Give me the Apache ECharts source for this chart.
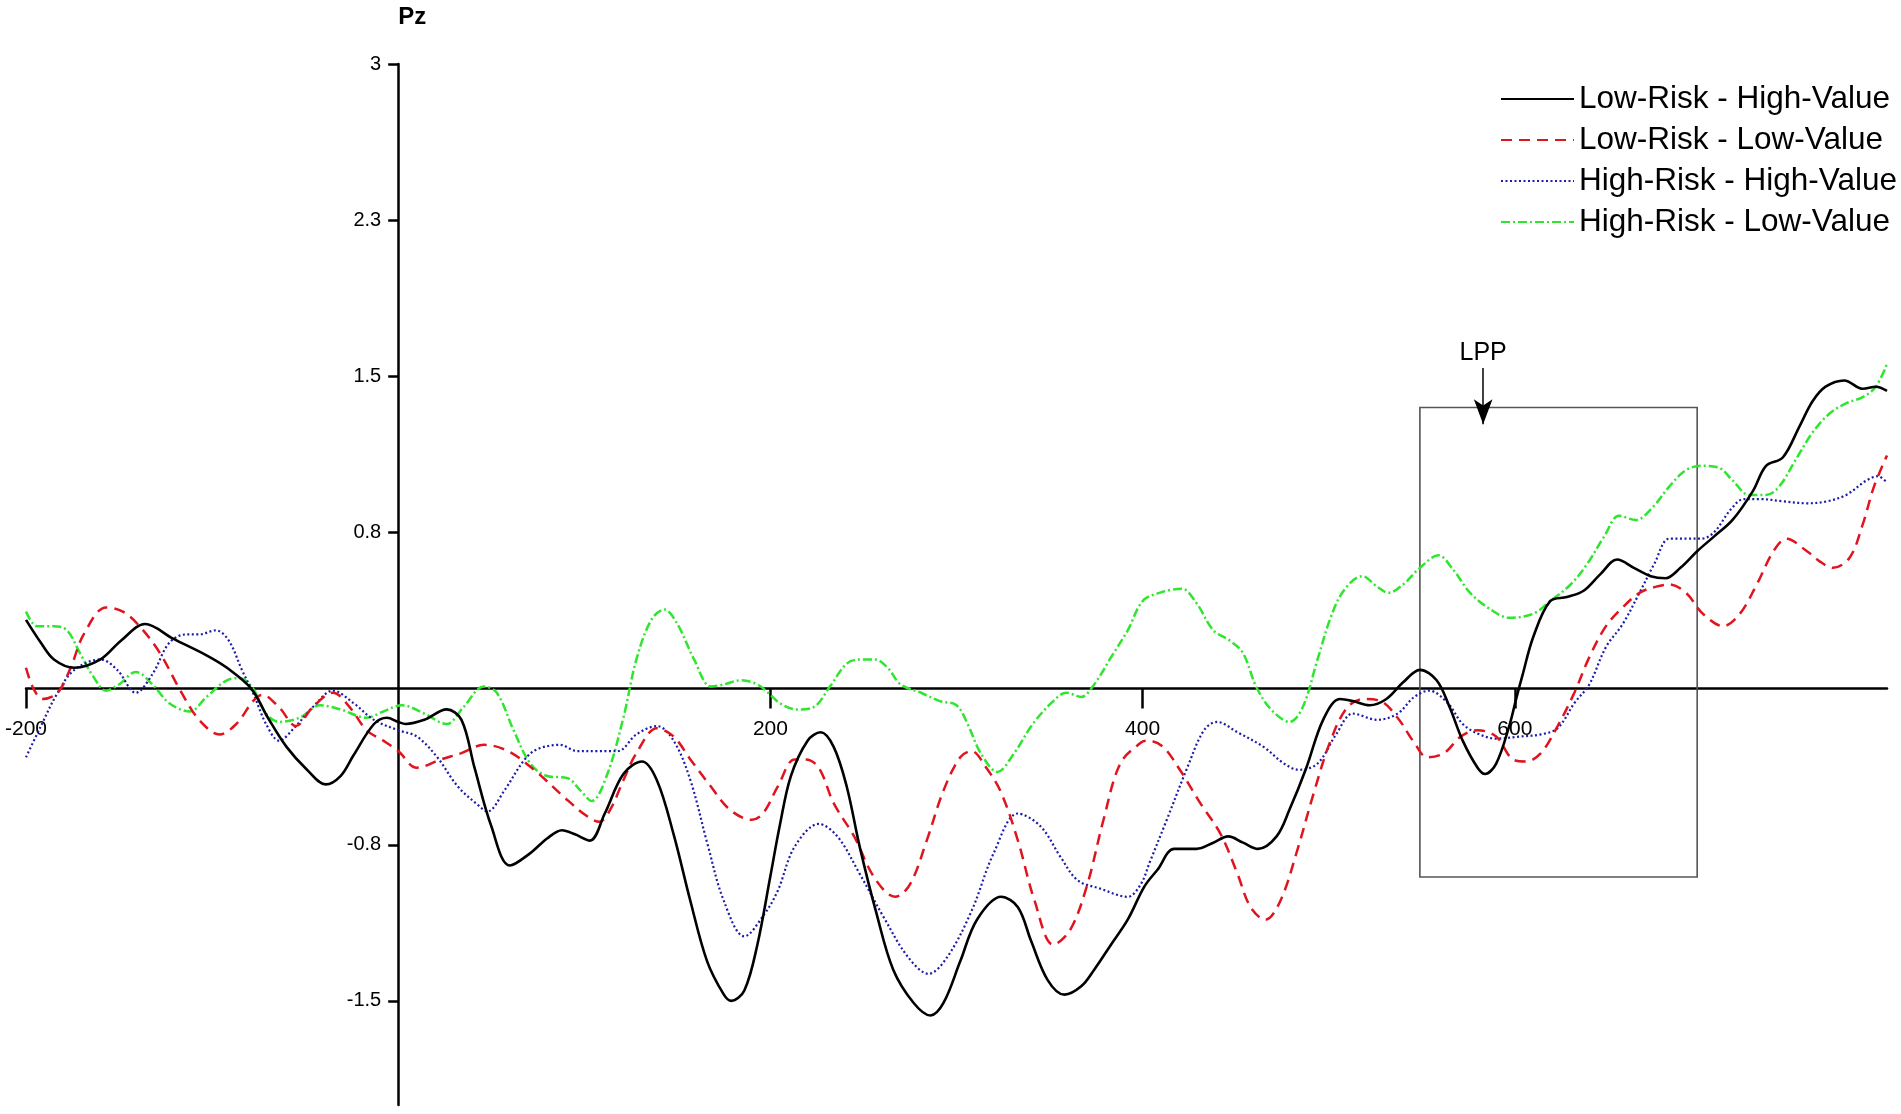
<!DOCTYPE html>
<html>
<head>
<meta charset="utf-8">
<title>Pz</title>
<script src="https://cdn.jsdelivr.net/npm/echarts@6.0.0/dist/echarts.min.js"></script>
<style>
  html, body { margin: 0; padding: 0; background: #fff; }
  #chart { width: 1901px; height: 1114px; }
</style>
</head>
<body>
<div id="chart"></div>
<script>
// ERP waveforms at Pz, [time (ms), amplitude]
var lowRiskHighValue = [
  [-200,0.33],[-192,0.22],[-185,0.14],[-174,0.10],[-160,0.14],[-149,0.23],[-136,0.31],[-121,0.24],[-103,0.16],[-92,0.10],
  [-79,0.00],[-70,-0.14],[-60,-0.28],[-49,-0.39],[-39,-0.46],[-31,-0.42],[-24,-0.32],[-13,-0.17],[-6,-0.14],[0,-0.16],
  [4,-0.17],[14,-0.15],[26,-0.10],[34,-0.15],[41,-0.38],[50,-0.66],[60,-0.85],[71,-0.79],[80,-0.72],[88,-0.68],
  [95,-0.70],[103,-0.73],[111,-0.60],[121,-0.41],[131,-0.35],[139,-0.44],[148,-0.70],[157,-1.02],[166,-1.31],[175,-1.47],
  [179,-1.50],[186,-1.45],[193,-1.23],[200,-0.90],[205,-0.66],[211,-0.42],[220,-0.25],[227,-0.21],[234,-0.28],[241,-0.47],
  [248,-0.76],[257,-1.08],[266,-1.35],[277,-1.51],[286,-1.57],[293,-1.51],[302,-1.31],[311,-1.11],[324,-1.00],[333,-1.05],
  [340,-1.21],[349,-1.40],[358,-1.47],[367,-1.43],[374,-1.35],[383,-1.23],[392,-1.11],[401,-0.95],[408,-0.87],[417,-0.77],
  [429,-0.77],[438,-0.74],[446,-0.71],[454,-0.74],[462,-0.77],[472,-0.71],[479,-0.58],[488,-0.38],[497,-0.15],[506,-0.05],
  [513,-0.06],[522,-0.08],[531,-0.05],[540,0.03],[549,0.09],[558,0.04],[565,-0.09],[572,-0.25],[580,-0.38],[584,-0.41],
  [590,-0.36],[597,-0.18],[601,-0.04],[604,0.06],[610,0.25],[619,0.42],[628,0.44],[637,0.47],[646,0.55],[655,0.62],
  [664,0.58],[673,0.54],[681,0.53],[689,0.58],[698,0.66],[707,0.73],[717,0.81],[728,0.95],[735,1.07],[744,1.11],
  [753,1.26],[760,1.38],[767,1.45],[777,1.48],[787,1.44],[794,1.45],[800,1.43]
];

var lowRiskLowValue = [
  [-200,0.10],[-196,0.00],[-191,-0.05],[-183,-0.02],[-176,0.10],[-169,0.26],[-157,0.39],[-148,0.37],[-139,0.30],[-128,0.17],
  [-117,-0.01],[-107,-0.15],[-96,-0.22],[-87,-0.17],[-78,-0.06],[-73,-0.03],[-64,-0.09],[-55,-0.18],[-46,-0.09],[-35,-0.02],
  [-26,-0.09],[-17,-0.20],[-8,-0.25],[0,-0.30],[10,-0.38],[23,-0.34],[34,-0.31],[46,-0.27],[59,-0.30],[73,-0.39],
  [89,-0.52],[101,-0.61],[108,-0.64],[114,-0.58],[121,-0.44],[128,-0.31],[139,-0.19],[148,-0.23],[157,-0.34],[168,-0.47],
  [178,-0.58],[190,-0.63],[196,-0.60],[204,-0.47],[213,-0.34],[219,-0.34],[226,-0.38],[234,-0.55],[245,-0.71],[256,-0.91],
  [267,-1.00],[275,-0.94],[284,-0.73],[293,-0.49],[302,-0.33],[308,-0.30],[316,-0.38],[324,-0.50],[333,-0.73],[342,-1.02],
  [352,-1.23],[361,-1.16],[370,-0.95],[379,-0.63],[388,-0.36],[399,-0.26],[403,-0.25],[411,-0.28],[420,-0.39],[431,-0.55],
  [442,-0.70],[451,-0.89],[458,-1.05],[466,-1.11],[474,-1.02],[483,-0.78],[492,-0.50],[501,-0.25],[510,-0.09],[519,-0.05],
  [528,-0.06],[537,-0.14],[546,-0.26],[553,-0.33],[562,-0.31],[571,-0.23],[580,-0.20],[590,-0.23],[599,-0.34],[606,-0.35],
  [614,-0.31],[623,-0.18],[632,-0.02],[640,0.15],[649,0.30],[658,0.39],[667,0.46],[676,0.49],[683,0.50],[692,0.46],
  [701,0.36],[712,0.30],[721,0.36],[730,0.50],[739,0.66],[746,0.72],[757,0.66],[764,0.61],[771,0.58],[780,0.63],
  [787,0.79],[793,0.97],[800,1.12]
];

var highRiskHighValue = [
  [-200,-0.33],[-192,-0.18],[-183,-0.02],[-174,0.09],[-160,0.14],[-151,0.09],[-141,-0.02],[-132,0.07],[-123,0.22],[-114,0.26],
  [-107,0.26],[-98,0.28],[-91,0.23],[-84,0.09],[-78,-0.02],[-71,-0.17],[-64,-0.25],[-55,-0.18],[-46,-0.09],[-35,-0.01],
  [-24,-0.07],[-13,-0.15],[0,-0.20],[10,-0.23],[21,-0.33],[32,-0.47],[43,-0.56],[48,-0.59],[57,-0.49],[68,-0.34],
  [75,-0.29],[87,-0.27],[96,-0.30],[107,-0.30],[118,-0.30],[128,-0.22],[139,-0.18],[148,-0.25],[157,-0.44],[166,-0.74],
  [175,-1.02],[186,-1.19],[197,-1.08],[204,-0.97],[213,-0.76],[226,-0.65],[236,-0.71],[248,-0.89],[261,-1.10],[274,-1.29],
  [285,-1.37],[295,-1.29],[308,-1.07],[320,-0.79],[333,-0.60],[345,-0.66],[356,-0.81],[365,-0.92],[377,-0.96],[392,-1.00],
  [399,-0.94],[404,-0.83],[413,-0.63],[424,-0.38],[433,-0.20],[440,-0.16],[451,-0.21],[465,-0.28],[476,-0.36],[484,-0.39],
  [494,-0.36],[504,-0.22],[513,-0.12],[526,-0.15],[537,-0.12],[546,-0.04],[554,-0.01],[564,-0.07],[572,-0.17],[581,-0.22],
  [590,-0.24],[603,-0.23],[614,-0.22],[623,-0.19],[632,-0.07],[640,0.02],[649,0.20],[658,0.31],[667,0.46],[675,0.60],
  [683,0.72],[692,0.72],[700,0.72],[707,0.75],[716,0.86],[723,0.91],[732,0.91],[744,0.90],[757,0.89],[768,0.90],
  [778,0.93],[789,1.00],[795,1.02],[800,0.99]
];

var highRiskLowValue = [
  [-200,0.37],[-194,0.30],[-185,0.30],[-178,0.28],[-171,0.17],[-164,0.06],[-157,-0.01],[-150,0.02],[-141,0.08],[-132,0.02],
  [-123,-0.07],[-112,-0.11],[-103,-0.04],[-92,0.04],[-85,0.05],[-78,0.00],[-71,-0.12],[-64,-0.16],[-53,-0.14],[-42,-0.08],
  [-31,-0.10],[-17,-0.14],[-8,-0.11],[2,-0.08],[14,-0.12],[26,-0.17],[35,-0.09],[46,0.01],[53,-0.02],[62,-0.20],
  [71,-0.36],[80,-0.42],[91,-0.43],[98,-0.49],[104,-0.54],[112,-0.42],[121,-0.14],[128,0.14],[136,0.33],[143,0.38],
  [150,0.31],[159,0.14],[168,0.01],[175,0.02],[184,0.04],[193,0.02],[200,-0.03],[205,-0.07],[214,-0.10],[223,-0.09],
  [232,0.01],[241,0.12],[248,0.14],[256,0.14],[263,0.10],[270,0.02],[281,-0.02],[291,-0.06],[300,-0.08],[306,-0.17],
  [313,-0.31],[322,-0.40],[331,-0.31],[341,-0.17],[352,-0.06],[359,-0.02],[367,-0.04],[374,0.02],[383,0.15],[392,0.28],
  [400,0.42],[409,0.46],[421,0.48],[429,0.41],[438,0.28],[447,0.23],[454,0.17],[461,0.01],[469,-0.10],[479,-0.16],
  [486,-0.09],[494,0.14],[501,0.34],[508,0.47],[518,0.54],[526,0.49],[532,0.46],[540,0.50],[549,0.58],[559,0.64],
  [567,0.57],[576,0.46],[587,0.38],[597,0.34],[610,0.36],[619,0.42],[630,0.50],[639,0.60],[648,0.73],[656,0.83],
  [665,0.81],[674,0.87],[683,0.97],[692,1.05],[701,1.07],[710,1.06],[717,1.00],[726,0.93],[735,0.93],[742,0.97],
  [751,1.10],[760,1.23],[769,1.32],[778,1.37],[787,1.40],[794,1.45],[800,1.56]
];

var seriesNames = [
  'Low-Risk - High-Value',
  'Low-Risk - Low-Value',
  'High-Risk - High-Value',
  'High-Risk - Low-Value'
];

var xTickValues = [-200, 200, 400, 600];
var yTickValues = [-1.5, -0.75, 0.75, 1.5, 2.25, 3];
var yTickLabels = ['-1.5', '-0.8', '0.8', '1.5', '2.3', '3'];

// LPP time window (ms) and box extent, arrow start/end (ms, amplitude)
var lppWindow = [549, 698];
var lppBoxRange = [-0.905, 1.35];
var lppArrow = [[583, 1.54], [583, 1.27]];

var FONT = '"Liberation Sans", Arial, Helvetica, sans-serif';
var NARROW = '"Liberation Sans Narrow", "Arial Narrow", "Liberation Sans", sans-serif';

var chart = echarts.init(document.getElementById('chart'), null, { renderer: 'canvas' });

function lineSeries(name, data, color, width, type, z) {
  return {
    name: name,
    type: 'line',
    data: data,
    smooth: 0.35,
    symbol: 'none',
    showSymbol: false,
    z: z,
    lineStyle: { color: color, width: width, type: type, cap: 'butt' },
    itemStyle: { color: color },
    emphasis: { disabled: true }
  };
}

var blackSeries = lineSeries(seriesNames[0], lowRiskHighValue, '#000000', 2.6, 'solid', 6);
blackSeries.markArea = {
  silent: true,
  itemStyle: { color: 'rgba(0,0,0,0)', borderColor: '#555', borderWidth: 1.6 },
  data: [[
    { coord: [lppWindow[0], lppBoxRange[1]] },
    { coord: [lppWindow[1], lppBoxRange[0]] }
  ]]
};
blackSeries.markLine = {
  silent: true,
  animation: false,
  symbol: ['none', 'arrow'],
  lineStyle: { color: '#000', width: 1.5, type: 'solid' },
  label: {
    show: true,
    position: 'start',
    formatter: 'LPP',
    fontFamily: FONT,
    fontSize: 25,
    color: '#000',
    distance: 2
  },
  data: [[
    { coord: lppArrow[0], symbol: 'none' },
    { coord: lppArrow[1], symbol: 'arrow', symbolSize: [14, 25] }
  ]]
};

var option = {
  animation: false,
  backgroundColor: '#ffffff',
  textStyle: { fontFamily: FONT },
  grid: { left: 26, right: 14, top: 64, bottom: 9, containLabel: false, outerBoundsMode: 'none' },
  legend: {
    orient: 'vertical',
    left: 1495,
    top: 78,
    itemWidth: 73,
    itemHeight: 14,
    itemGap: 9,
    selectedMode: false,
    data: seriesNames,
    itemStyle: { opacity: 0 },
    textStyle: { fontFamily: FONT, fontSize: 31.5, lineHeight: 30, color: '#000' }
  },
  xAxis: {
    type: 'value',
    min: -200,
    max: 800,
    axisLine: { onZero: false, lineStyle: { color: '#000', width: 2.5 } },
    axisTick: { show: true, customValues: xTickValues, length: 20, lineStyle: { color: '#000', width: 2.5 } },
    axisLabel: {
      customValues: xTickValues,
      margin: 30,
      fontFamily: NARROW,
      fontSize: 21,
      color: '#000'
    },
    splitLine: { show: false }
  },
  yAxis: {
    type: 'value',
    min: -2,
    max: 3,
    name: 'Pz',
    nameLocation: 'end',
    nameGap: 47,
    nameTextStyle: {
      fontFamily: FONT,
      fontSize: 24,
      fontWeight: 'bold',
      color: '#000',
      align: 'left',
      verticalAlign: 'middle'
    },
    axisLine: { onZero: false, lineStyle: { color: '#000', width: 2.5 } },
    axisTick: { show: true, customValues: yTickValues, length: 10, lineStyle: { color: '#000', width: 2.5 } },
    axisLabel: {
      customValues: yTickValues,
      margin: 17,
      fontFamily: FONT,
      fontSize: 20,
      color: '#000',
      formatter: function (v) {
        var i = yTickValues.indexOf(v);
        return i >= 0 ? yTickLabels[i] : '';
      }
    },
    splitLine: { show: false }
  },
  series: [
    lineSeries(seriesNames[3], highRiskLowValue, '#2ee62e', 2.5, [9, 3, 2, 3], 3),
    lineSeries(seriesNames[2], highRiskHighValue, '#1c1ca8', 2.2, [2, 2.5], 4),
    lineSeries(seriesNames[1], lowRiskLowValue, '#e0141e', 2.5, [11, 7], 5),
    blackSeries
  ]
};

chart.setOption(option);

// move both axes (with their ticks and labels) onto the zero lines
var origin = chart.convertToPixel({ gridIndex: 0 }, [0, 0]);
var corner = chart.convertToPixel({ gridIndex: 0 }, [-200, -2]);
chart.setOption({
  xAxis: { offset: origin[1] - corner[1] },
  yAxis: { offset: corner[0] - origin[0] }
});
</script>
</body>
</html>
